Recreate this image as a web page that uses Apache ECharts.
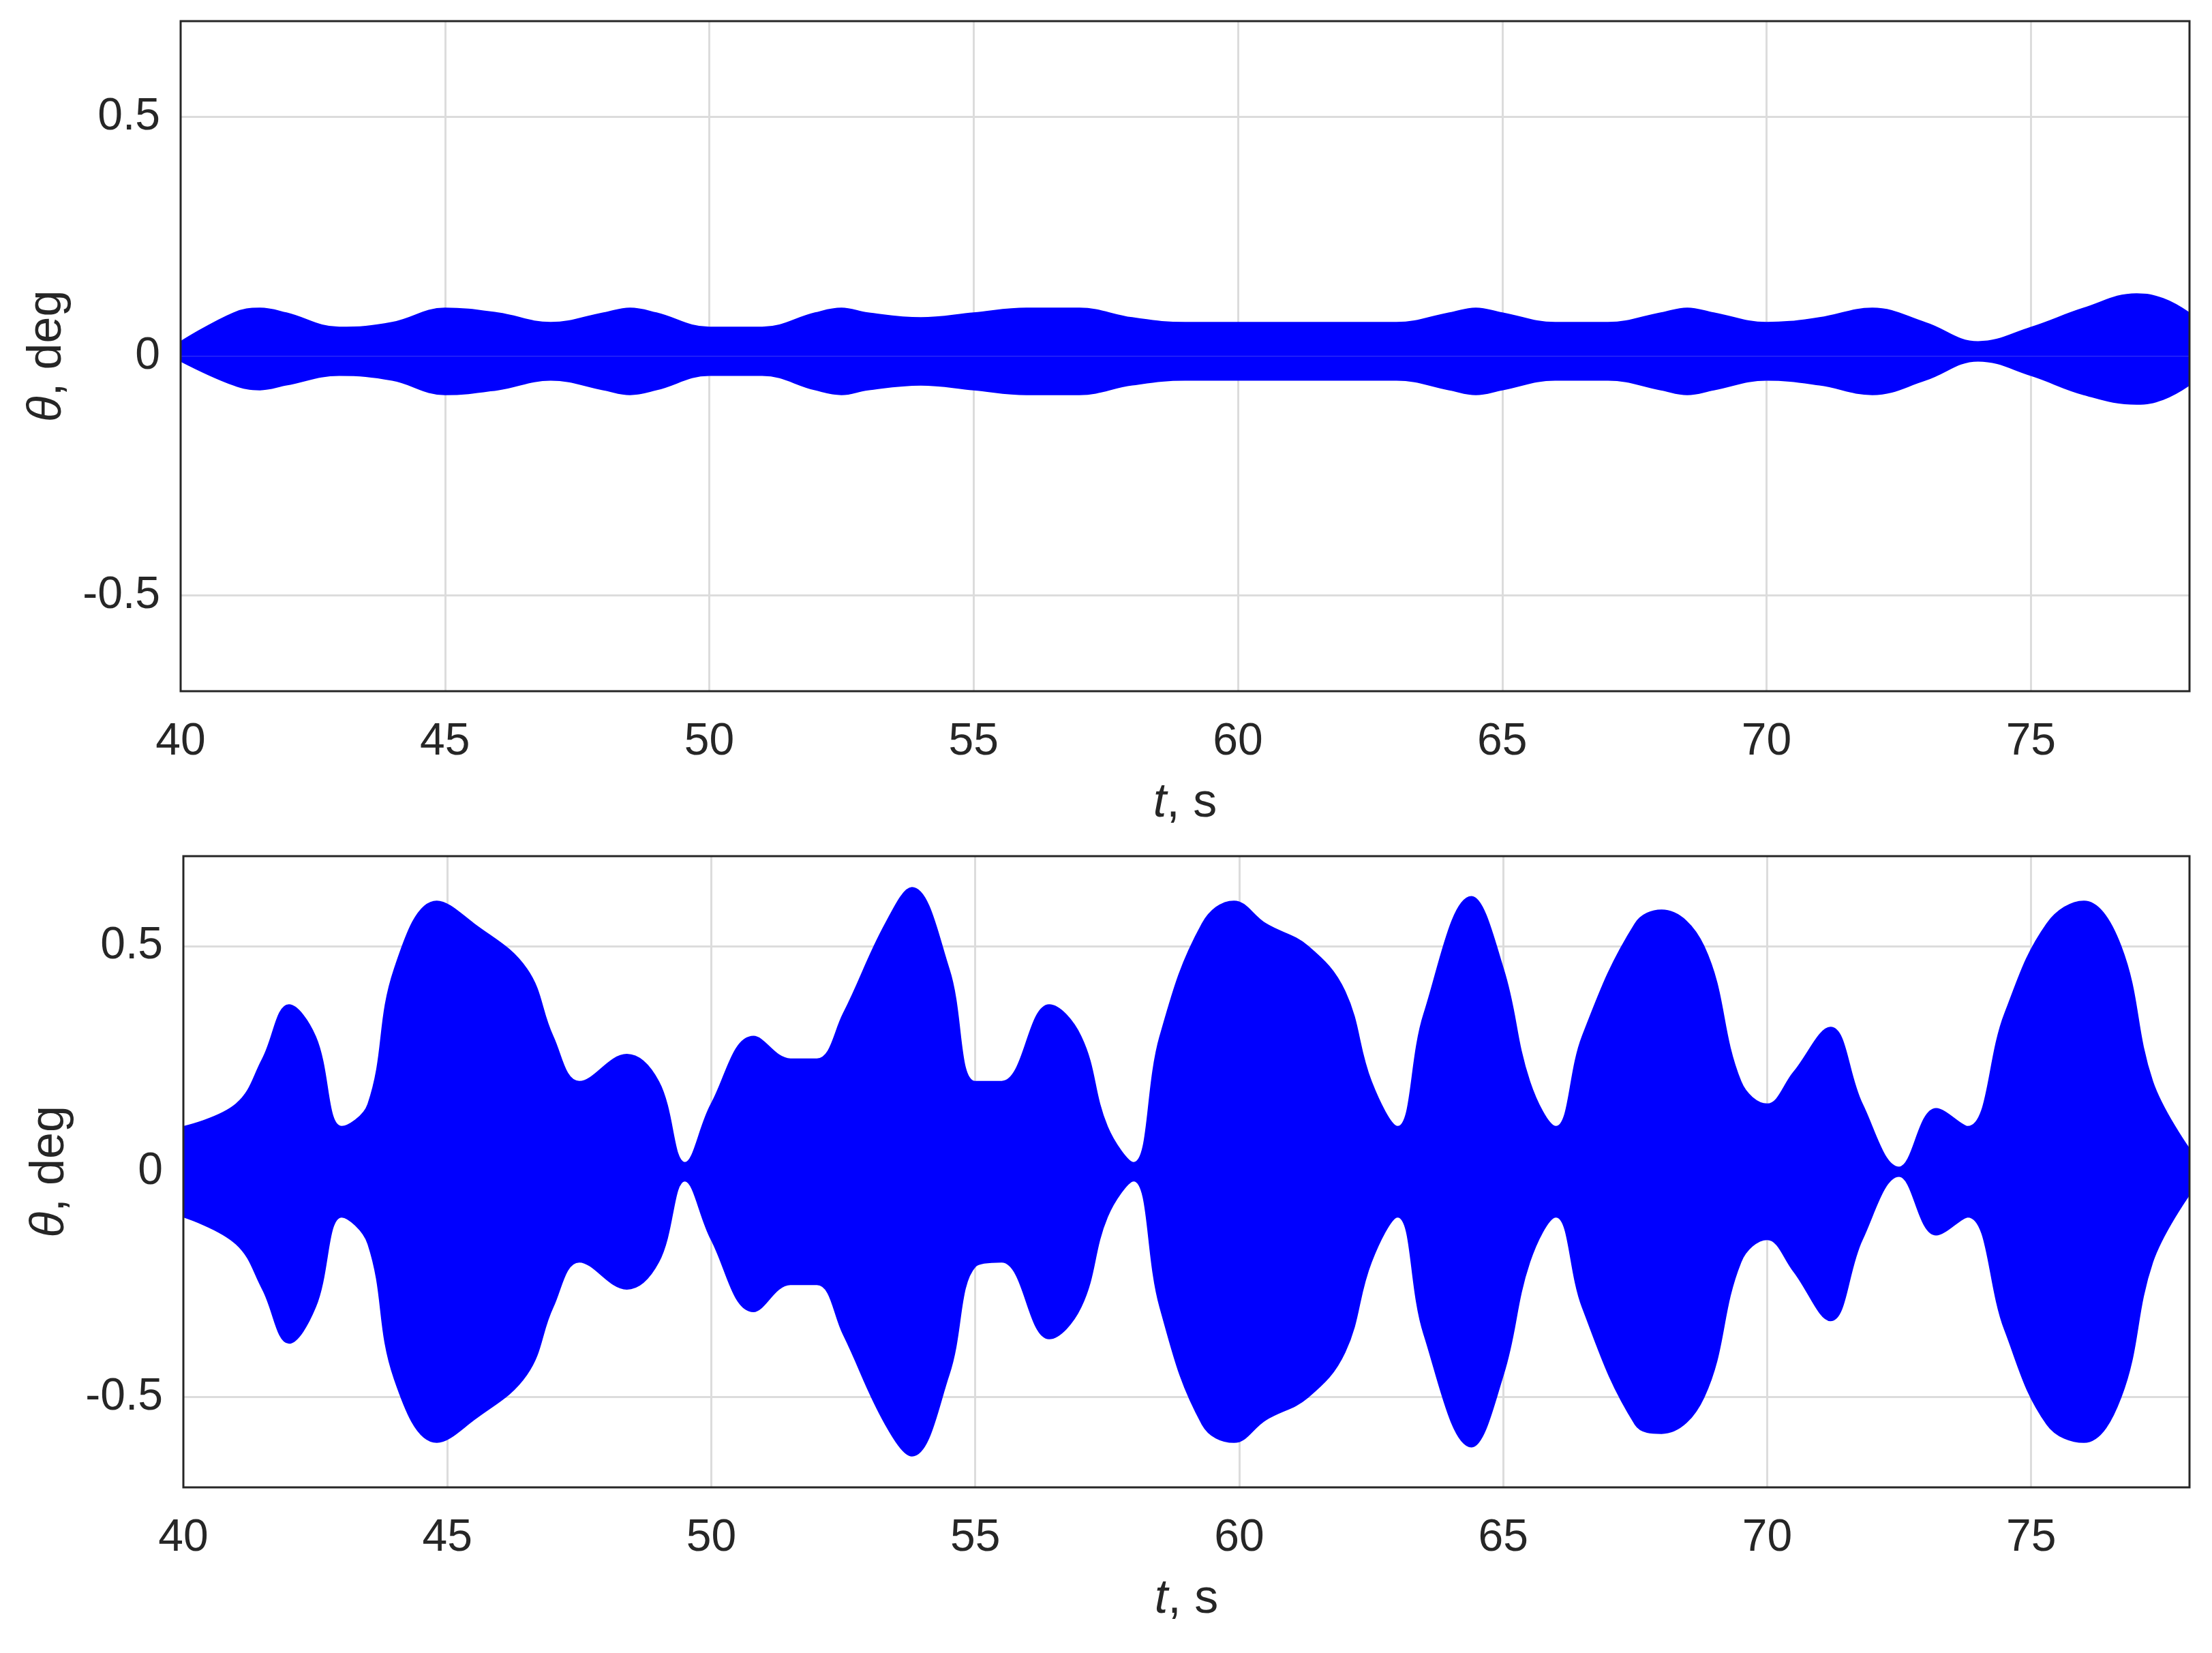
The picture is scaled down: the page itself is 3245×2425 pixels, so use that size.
<!DOCTYPE html>
<html><head><meta charset="utf-8">
<script src="https://cdn.jsdelivr.net/npm/echarts@6/dist/echarts.min.js"></script>
<style>html,body{margin:0;background:#fff}#c{width:3245px;height:2425px}</style>
</head><body><div id="c"></div>
<script>
// Envelope of the oscillation (deg)
const tTop   = [40,41,41.5,42,43,44,45,46,47,48,48.5,49,50,51,52,52.5,53,54,55,56,56.5,57,58,59,60,61,62,63,64,64.5,65,66,67,68,68.5,69,70,71,72,73,74,75,76,77,77.5,78];
const upTop  = [0.03,0.09,0.10,0.09,0.06,0.07,0.10,0.09,0.07,0.09,0.10,0.09,0.06,0.06,0.09,0.10,0.09,0.08,0.09,0.10,0.10,0.10,0.08,0.07,0.07,0.07,0.07,0.07,0.09,0.10,0.09,0.07,0.07,0.09,0.10,0.09,0.07,0.08,0.10,0.07,0.03,0.06,0.10,0.13,0.12,0.09];
const loTop  = [-0.01,-0.06,-0.07,-0.06,-0.04,-0.05,-0.08,-0.07,-0.05,-0.07,-0.08,-0.07,-0.04,-0.04,-0.07,-0.08,-0.07,-0.06,-0.07,-0.08,-0.08,-0.08,-0.06,-0.05,-0.05,-0.05,-0.05,-0.05,-0.07,-0.08,-0.07,-0.05,-0.05,-0.07,-0.08,-0.07,-0.05,-0.06,-0.08,-0.05,-0.01,-0.04,-0.08,-0.10,-0.09,-0.06];
const tBot   = [40,41,41.5,42,42.5,43,43.5,44,44.8,45.5,46.5,47,47.5,48.4,49,49.5,50,50.8,51.5,52,52.5,53.3,53.8,54.5,55,55.5,56.4,57,57.5,58,58.5,59.3,59.9,60.5,61.3,62,62.5,63,63.5,64.4,65,65.5,66,66.5,67.5,68,68.8,69.5,70,70.5,71.2,71.8,72.5,73.2,73.8,74.5,75.3,76,76.7,77.3,78];
const upBot  = [0.10,0.15,0.25,0.37,0.30,0.10,0.15,0.45,0.60,0.55,0.45,0.30,0.20,0.26,0.20,0.02,0.15,0.30,0.25,0.25,0.35,0.55,0.63,0.45,0.20,0.20,0.37,0.30,0.10,0.02,0.30,0.55,0.60,0.55,0.50,0.40,0.20,0.10,0.35,0.61,0.45,0.20,0.10,0.30,0.55,0.58,0.50,0.20,0.15,0.22,0.32,0.15,0.01,0.14,0.10,0.35,0.55,0.60,0.50,0.20,0.05];
const loBot  = [-0.10,-0.16,-0.26,-0.38,-0.30,-0.10,-0.16,-0.46,-0.60,-0.55,-0.45,-0.30,-0.20,-0.26,-0.20,-0.02,-0.15,-0.31,-0.25,-0.25,-0.36,-0.56,-0.63,-0.45,-0.21,-0.20,-0.37,-0.30,-0.10,-0.02,-0.30,-0.56,-0.60,-0.55,-0.50,-0.40,-0.20,-0.10,-0.36,-0.61,-0.45,-0.20,-0.10,-0.30,-0.56,-0.58,-0.50,-0.20,-0.15,-0.22,-0.33,-0.15,-0.01,-0.14,-0.10,-0.35,-0.56,-0.60,-0.50,-0.20,-0.05];
const xTicks = [40,45,50,55,60,65,70,75];
const yTicks = [-0.5,0,0.5];

const F = 'Liberation Sans, Arial, sans-serif';
const C = '#262626';
const zip = (t, v) => t.map((x, i) => [x, v[i]]);
const xA = (g) => ({gridIndex:g,type:'value',min:40,max:78,
  name:'{i|t}, s',nameLocation:'middle',nameGap:130,
  nameTextStyle:{fontFamily:F,fontSize:70,color:C,rich:{i:{fontStyle:'italic',fontFamily:F,fontSize:70,color:C}}},
  axisLine:{show:false},axisTick:{inside:true,length:14,customValues:xTicks,lineStyle:{color:C,width:2}},
  axisLabel:{fontFamily:F,fontSize:66,color:C,margin:42,customValues:xTicks},
  splitLine:{show:false}});
const yA = (g) => ({gridIndex:g,type:'value',min:-0.7,max:0.7,
  axisLabel:{fontFamily:F,fontSize:66,color:C,margin:30,
    customValues:yTicks,formatter:v=>v===0?'0':String(v)},
  axisTick:{inside:true,length:14,customValues:yTicks,lineStyle:{color:C,width:2}},
  splitLine:{show:false},axisLine:{show:false},
  name:'{i|θ}, deg',nameLocation:'middle',nameGap:160,nameRotate:90,
  nameTextStyle:{fontFamily:F,fontSize:70,color:C,rich:{i:{fontStyle:'italic',fontFamily:F,fontSize:70,color:C}}}});
const band = (g, t, v) => ({type:'line',xAxisIndex:g,yAxisIndex:g,data:zip(t,v),smooth:0.4,z:10,
  showSymbol:false,lineStyle:{color:'#0000ff',width:2},areaStyle:{color:'#0000ff',opacity:1,origin:0}});
const gridLines = (g) => ({type:'line',xAxisIndex:g,yAxisIndex:g,silent:true,data:[],z:1,
  markLine:{symbol:'none',silent:true,z:1,label:{show:false},lineStyle:{color:'#dcdcdc',width:3,type:'solid'},
  data:yTicks.map(v=>({yAxis:v})).concat(xTicks.slice(1).map(v=>({xAxis:v})))}});
const chart = echarts.init(document.getElementById('c'));
chart.setOption({
  animation:false,backgroundColor:'#fff',
  grid:[{left:265,right:33,top:31,height:983,show:true,borderColor:C,borderWidth:3,z:20},
        {left:269,right:33,top:1256,height:926,show:true,borderColor:C,borderWidth:3,z:20}],
  xAxis:[xA(0),xA(1)], yAxis:[yA(0),yA(1)],
  series:[gridLines(0),gridLines(1),band(0,tTop,upTop),band(0,tTop,loTop),band(1,tBot,upBot),band(1,tBot,loBot)]
});
</script></body></html>
